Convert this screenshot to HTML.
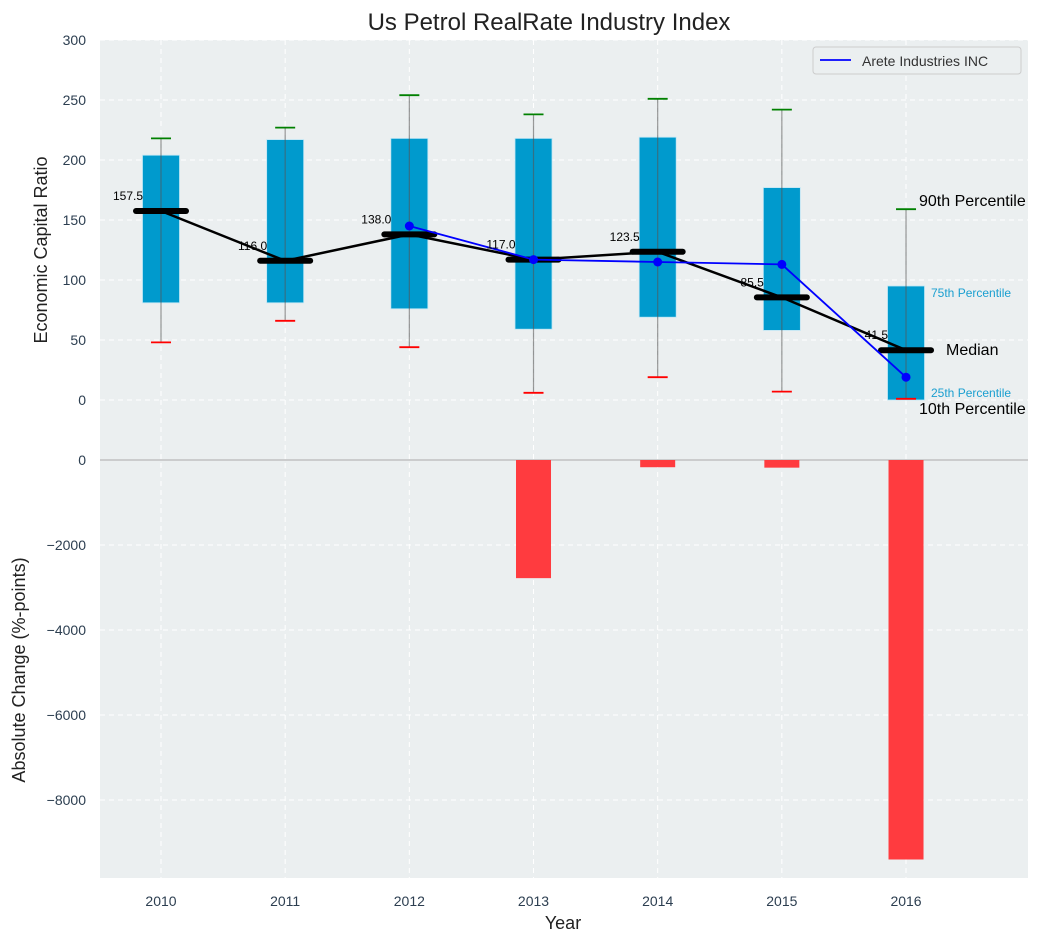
<!DOCTYPE html>
<html><head><meta charset="utf-8"><style>
body{margin:0;background:#fff;}
svg{display:block;font-family:"Liberation Sans","DejaVu Sans",sans-serif;}
</style></head><body>
<svg id="chart" width="1054" height="942">
<rect x="100" y="40" width="928" height="838" fill="#ebeff0"/>
<g id="grid"></g>
<line x1="100" x2="1028" y1="460" y2="460" stroke="#b8b8b8" stroke-width="1.2"/>
<g id="marks"></g>
<g id="labels"></g>
<text x="549" y="30" font-size="24" text-anchor="middle" fill="#222">Us Petrol RealRate Industry Index</text>
<text x="563" y="929" font-size="18" text-anchor="middle" fill="#222">Year</text>
<text transform="translate(47,250) rotate(-90)" font-size="18" text-anchor="middle" fill="#222">Economic Capital Ratio</text>
<text transform="translate(25,670) rotate(-90)" font-size="18" text-anchor="middle" fill="#222">Absolute Change (%-points)</text>
<g>
<rect x="813" y="47" width="208" height="27" rx="3" fill="#ebeff0" stroke="#ccc"/>
<line x1="820" x2="851" y1="60" y2="60" stroke="#0000ff" stroke-width="1.8"/>
<text x="862" y="66" font-size="14" fill="#333">Arete Industries INC</text>
</g>
<g>
<text x="919" y="206" font-size="16" fill="#000">90th Percentile</text>
<text x="931" y="297" font-size="12" fill="#1a9fd0">75th Percentile</text>
<text x="946" y="355" font-size="16" fill="#000">Median</text>
<text x="931" y="397" font-size="12" fill="#1a9fd0">25th Percentile</text>
<text x="919" y="414" font-size="16" fill="#000">10th Percentile</text>
</g>
</svg>
<script>
const years=[2010,2011,2012,2013,2014,2015,2016];
const p90=[218,227,254,238,251,242,159];
const p75=[204,217,218,218,219,177,95];
const p25=[81,81,76,59,69,58,0];
const p10=[48,66,44,6,19,7,1];
const medians=[157.5,116.0,138.0,117.0,123.5,85.5,41.5];
const companyYears=[2012,2013,2014,2015,2016];
const companyValues=[145,117,115,113,19];
const changes=[0,0,0,-2780,-170,-180,-9400];
const topTicks=[0,50,100,150,200,250,300];
const bottomTicks=[0,-2000,-4000,-6000,-8000];

const NS="http://www.w3.org/2000/svg";
const xS=y=>161+(y-2010)*124.17;
const yT=v=>400-v*1.2;
const yB=v=>460-v*(85/2000);
function mk(p,tag,a){const e=document.createElementNS(NS,tag);for(const k in a)e.setAttribute(k,a[k]);p.appendChild(e);return e;}
const grid=document.getElementById('grid'),marks=document.getElementById('marks'),labels=document.getElementById('labels');

topTicks.forEach(t=>{
 const l=mk(grid,'line',{x1:100,x2:1028,y1:yT(t),y2:yT(t),stroke:'#fff','stroke-dasharray':'5,4','stroke-width':1});
 
 
 const tx=mk(labels,'text',{x:86,y:yT(t)+5,'font-size':14,'text-anchor':'end',fill:'#2c3e50'});tx.textContent=t;
 
 
});
bottomTicks.forEach(t=>{
 const l=mk(grid,'line',{x1:100,x2:1028,y1:yB(t),y2:yB(t),stroke:'#fff','stroke-dasharray':'5,4','stroke-width':1});
 
 
 const tx=mk(labels,'text',{x:86,y:yB(t)+5,'font-size':14,'text-anchor':'end',fill:'#2c3e50'});tx.textContent=(t<0?'\u2212'+(-t):t);
 
 
});
years.forEach(y=>{
 const l=mk(grid,'line',{x1:xS(y),x2:xS(y),y1:40,y2:878,stroke:'#fff','stroke-dasharray':'5,4','stroke-width':1});
 
 
 const tx=mk(labels,'text',{x:xS(y),y:906,'font-size':14,'text-anchor':'middle',fill:'#2c3e50'});tx.textContent=y;
 
 
});

years.forEach((y,i)=>{
 const x=xS(y);
 const b=mk(marks,'rect',{x:x-18.5,y:yT(p75[i]),width:37,height:yT(p25[i])-yT(p75[i]),fill:'#009acd',stroke:'#bfe6f5','stroke-width':0.8});
 
 
 const w=mk(marks,'line',{x1:x,x2:x,y1:yT(p90[i]),y2:yT(p10[i]),stroke:'#555','stroke-opacity':0.6,'stroke-width':1.2});
 
 
 const h=mk(marks,'line',{x1:x-10,x2:x+10,y1:yT(p90[i]),y2:yT(p90[i]),stroke:'#008000','stroke-width':1.8});
 
 
 const lo=mk(marks,'line',{x1:x-10,x2:x+10,y1:yT(p10[i]),y2:yT(p10[i]),stroke:'#ff0000','stroke-width':1.8});
 
 
 if(changes[i]!==0){
  const r=mk(marks,'rect',{x:x-17.5,y:yB(0),width:35,height:yB(changes[i])-yB(0),fill:'#ff3b3f'});
  
  
 }
});
const mp=mk(marks,'polyline',{points:years.map((y,i)=>xS(y)+','+yT(medians[i])).join(' '),fill:'none',stroke:'#000','stroke-width':2.5});


years.forEach((y,i)=>{
 const x=xS(y);
 const m=mk(marks,'line',{x1:x-25,x2:x+25,y1:yT(medians[i]),y2:yT(medians[i]),stroke:'#000','stroke-width':6,'stroke-linecap':'round'});
 
 
 const t=mk(labels,'text',{x:x-18,y:yT(medians[i])-11,'font-size':12,'text-anchor':'end',fill:'#000'});t.textContent=medians[i].toFixed(1);
 
 
});
const cp=mk(marks,'polyline',{points:companyYears.map((y,i)=>xS(y)+','+yT(companyValues[i])).join(' '),fill:'none',stroke:'#0000ff','stroke-width':1.8});


companyYears.forEach((y,i)=>{
 const c=mk(marks,'circle',{cx:xS(y),cy:yT(companyValues[i]),r:4.5,fill:'#0000ff'});
 
 
});
</script>
</body></html>
